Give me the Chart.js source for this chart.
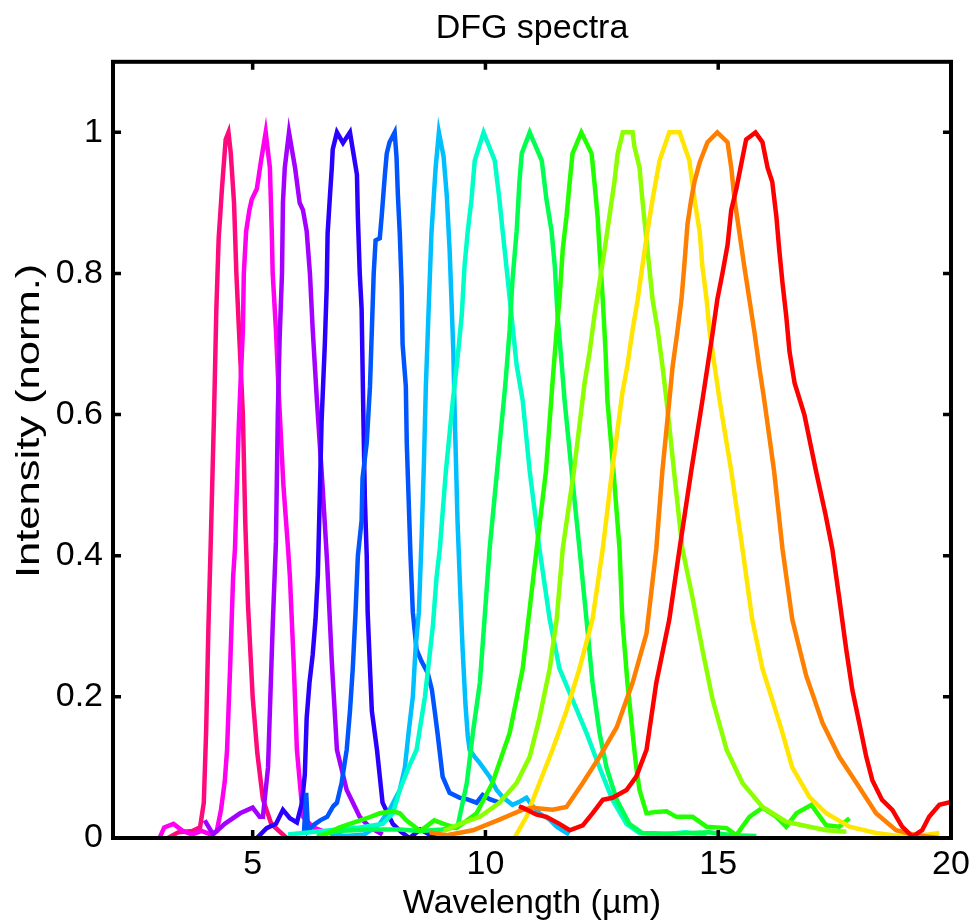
<!DOCTYPE html>
<html>
<head>
<meta charset="utf-8">
<title>DFG spectra</title>
<script src="https://cdn.jsdelivr.net/npm/chart.js@4.4.1/dist/chart.umd.min.js"></script>
<style>
  html, body { margin: 0; padding: 0; background: #fff; }
  #wrap { width: 976px; height: 924px; }
</style>
</head>
<body>
<div id="wrap"><canvas id="dfg" width="976" height="924"></canvas></div>
<script>
// DFG spectra — 13 normalised spectra.
// Each curve has its own wavelength samples (µm) and intensities.

const wlRose = [3.18, 3.4, 3.7, 3.87, 3.95, 4.0, 4.05, 4.1, 4.17, 4.22, 4.27, 4.34, 4.42, 4.48, 4.53, 4.6, 4.65, 4.72, 4.79, 4.84, 4.9, 5.0, 5.1, 5.22, 5.4, 5.73];
const itRose = [0, 0.008, 0.01, 0.015, 0.05, 0.15, 0.3, 0.42, 0.6, 0.75, 0.85, 0.92, 0.99, 1.0, 0.97, 0.9, 0.8, 0.7, 0.6, 0.45, 0.33, 0.2, 0.12, 0.055, 0.02, 0];

const wlMagenta = [3.0, 3.1, 3.3, 3.5, 3.7, 3.9, 4.1, 4.23, 4.32, 4.4, 4.45, 4.52, 4.58, 4.62, 4.7, 4.73, 4.79, 4.81, 4.86, 4.93, 4.98, 5.09, 5.18, 5.28, 5.37, 5.41, 5.43, 5.5, 5.56, 5.66, 5.76, 5.8, 5.88, 5.95, 6.08, 6.3, 6.5, 6.9];
const itMagenta = [0.0, 0.015, 0.02, 0.01, 0.005, 0.01, 0.005, 0.01, 0.04, 0.08, 0.125, 0.25, 0.37, 0.41, 0.58, 0.63, 0.72, 0.8, 0.86, 0.89, 0.905, 0.92, 0.96, 1.0, 0.95, 0.86, 0.8, 0.72, 0.63, 0.5, 0.41, 0.37, 0.25, 0.125, 0.03, 0.015, 0.01, 0.005];

const wlViolet = [3.97, 4.15, 4.4, 4.73, 5.0, 5.15, 5.22, 5.33, 5.43, 5.5, 5.54, 5.58, 5.63, 5.65, 5.69, 5.78, 5.91, 6.01, 6.08, 6.16, 6.23, 6.29, 6.38, 6.5, 6.6, 6.7, 6.81, 7.02, 7.3, 7.52, 7.79];
const itViolet = [0.025, 0.005, 0.02, 0.035, 0.043, 0.03, 0.03, 0.1, 0.3, 0.42, 0.6, 0.71, 0.8, 0.9, 0.95, 1.0, 0.95, 0.9, 0.89, 0.86, 0.8, 0.72, 0.62, 0.5, 0.39, 0.25, 0.125, 0.068, 0.03, 0.015, 0.005];

const wlBlue = [5.09, 5.3, 5.5, 5.65, 5.8, 5.95, 6.06, 6.12, 6.16, 6.22, 6.29, 6.35, 6.40, 6.44, 6.48, 6.55, 6.59, 6.61, 6.66, 6.70, 6.72, 6.81, 6.94, 7.09, 7.15, 7.24, 7.26, 7.30, 7.34, 7.36, 7.38, 7.41, 7.45, 7.47, 7.52, 7.56, 7.67, 7.79, 8.01, 8.2, 8.37, 8.6, 8.8, 8.95];
const itBlue = [0, 0.014, 0.02, 0.04, 0.028, 0.022, 0.05, 0.09, 0.17, 0.22, 0.26, 0.31, 0.373, 0.48, 0.59, 0.70, 0.78, 0.857, 0.91, 0.95, 0.976, 1.0, 0.985, 1.0, 0.976, 0.94, 0.88, 0.80, 0.75, 0.67, 0.59, 0.48, 0.40, 0.32, 0.24, 0.18, 0.125, 0.05, 0.02, 0.008, 0.0, 0.012, 0.005, 0.0];

const wlAzure = [6.1, 6.15, 6.19, 6.3, 6.45, 6.6, 6.73, 6.81, 6.91, 7.02, 7.09, 7.15, 7.21, 7.26, 7.34, 7.36, 7.45, 7.52, 7.56, 7.60, 7.64, 7.73, 7.77, 7.84, 7.88, 7.94, 8.05, 8.09, 8.12, 8.16, 8.20, 8.22, 8.29, 8.31, 8.35, 8.39, 8.44, 8.52, 8.63, 8.76, 8.85, 8.91, 8.97, 9.08, 9.23, 9.45, 9.6, 9.81, 9.94, 10.09, 10.3];
const itAzure = [0.005, 0.064, 0.01, 0.018, 0.025, 0.03, 0.045, 0.05, 0.078, 0.125, 0.18, 0.24, 0.32, 0.40, 0.45, 0.51, 0.56, 0.64, 0.72, 0.80, 0.847, 0.85, 0.88, 0.94, 0.97, 0.986, 1.0, 0.965, 0.91, 0.857, 0.78, 0.70, 0.64, 0.56, 0.48, 0.40, 0.32, 0.267, 0.25, 0.234, 0.21, 0.18, 0.149, 0.087, 0.064, 0.057, 0.055, 0.05, 0.061, 0.055, 0.05];

const wlSky = [6.66, 7.0, 7.4, 7.73, 7.94, 8.16, 8.27, 8.35, 8.44, 8.5, 8.57, 8.63, 8.68, 8.72, 8.78, 8.84, 8.93, 9.0, 9.1, 9.17, 9.23, 9.27, 9.31, 9.34, 9.4, 9.47, 9.51, 9.57, 9.62, 9.66, 9.77, 9.88, 10.09, 10.24, 10.37, 10.58, 10.75, 10.88, 10.99, 11.16, 11.38, 11.53, 11.8];
const itSky = [0.005, 0.003, 0.005, 0.02, 0.04, 0.068, 0.1, 0.15, 0.2, 0.27, 0.32, 0.427, 0.535, 0.64, 0.75, 0.857, 0.95, 1.0, 0.966, 0.91, 0.834, 0.763, 0.69, 0.6, 0.45, 0.33, 0.267, 0.19, 0.145, 0.125, 0.115, 0.106, 0.087, 0.068, 0.058, 0.047, 0.052, 0.057, 0.047, 0.035, 0.026, 0.016, 0.005];

const wlAqua = [5.76, 6.5, 7.3, 7.79, 8.01, 8.16, 8.35, 8.52, 8.7, 8.87, 8.95, 9.02, 9.15, 9.3, 9.4, 9.49, 9.55, 9.62, 9.7, 9.77, 9.96, 10.2, 10.3, 10.37, 10.45, 10.56, 10.67, 10.8, 10.95, 11.16, 11.38, 11.59, 11.87, 12.17, 12.45, 12.73, 13.03, 13.31, 13.8, 14.3, 14.75];
const itAqua = [0.005, 0.01, 0.015, 0.02, 0.035, 0.068, 0.1, 0.125, 0.2, 0.3, 0.37, 0.41, 0.52, 0.62, 0.68, 0.74, 0.81, 0.86, 0.905, 0.96, 1.0, 0.96, 0.905, 0.86, 0.81, 0.74, 0.67, 0.62, 0.52, 0.41, 0.31, 0.24, 0.196, 0.149, 0.1, 0.054, 0.02, 0.007, 0.005, 0.008, 0.004];

const wlSpring = [6.38, 6.81, 7.5, 8.16, 8.6, 9.08, 9.4, 9.6, 9.73, 9.88, 9.98, 10.09, 10.25, 10.43, 10.52, 10.58, 10.67, 10.73, 10.78, 10.95, 11.21, 11.31, 11.42, 11.49, 11.55, 11.64, 11.7, 11.85, 12.02, 12.17, 12.3, 12.45, 12.6, 12.82, 13.09, 13.37, 14.0, 14.8, 15.3, 15.82];
const itSpring = [0.003, 0.01, 0.012, 0.012, 0.01, 0.012, 0.016, 0.078, 0.149, 0.22, 0.31, 0.41, 0.52, 0.645, 0.72, 0.79, 0.86, 0.93, 0.97, 1.0, 0.96, 0.905, 0.86, 0.81, 0.74, 0.67, 0.62, 0.52, 0.41, 0.31, 0.22, 0.149, 0.1, 0.054, 0.02, 0.007, 0.006, 0.008, 0.004, 0.003];

const wlGreen = [6.38, 6.87, 7.45, 7.73, 8.01, 8.16, 8.3, 8.6, 8.9, 9.1, 9.38, 9.81, 10.15, 10.52, 10.8, 11.1, 11.3, 11.44, 11.53, 11.59, 11.66, 11.74, 11.81, 11.87, 12.06, 12.28, 12.34, 12.41, 12.45, 12.52, 12.58, 12.62, 12.75, 12.88, 12.94, 13.05, 13.16, 13.24, 13.31, 13.46, 13.67, 13.89, 14.1, 14.45, 14.75, 15.18, 15.39, 15.67, 15.95, 16.25, 16.46, 16.68, 17.0, 17.32, 17.6, 17.82];
const itGreen = [0.0, 0.015, 0.028, 0.035, 0.038, 0.035, 0.025, 0.01, 0.025, 0.02, 0.014, 0.035, 0.078, 0.149, 0.24, 0.41, 0.52, 0.645, 0.72, 0.763, 0.834, 0.88, 0.93, 0.97, 1.0, 0.97, 0.93, 0.88, 0.834, 0.763, 0.69, 0.62, 0.52, 0.41, 0.31, 0.22, 0.149, 0.1, 0.068, 0.035, 0.037, 0.038, 0.03, 0.03, 0.016, 0.014, 0.004, 0.03, 0.043, 0.03, 0.016, 0.035, 0.047, 0.018, 0.016, 0.028];

const wlLime = [9.1, 9.45, 9.88, 10.3, 10.67, 10.95, 11.16, 11.38, 11.53, 11.66, 11.9, 12.13, 12.24, 12.34, 12.45, 12.56, 12.66, 12.77, 12.84, 12.95, 13.16, 13.2, 13.31, 13.37, 13.48, 13.59, 13.7, 13.8, 13.89, 14.05, 14.23, 14.45, 14.66, 14.88, 15.18, 15.52, 15.95, 16.46, 16.96, 17.32, 17.75];
const itLime = [0.01, 0.02, 0.03, 0.05, 0.078, 0.115, 0.17, 0.24, 0.31, 0.41, 0.52, 0.645, 0.69, 0.74, 0.787, 0.834, 0.88, 0.93, 0.97, 1.0, 1.0, 0.98, 0.95, 0.905, 0.834, 0.763, 0.72, 0.67, 0.62, 0.52, 0.41, 0.34, 0.267, 0.196, 0.125, 0.078, 0.044, 0.023, 0.016, 0.011, 0.009];

const wlYellow = [10.63, 10.88, 11.16, 11.44, 11.74, 12.02, 12.3, 12.52, 12.72, 12.94, 13.05, 13.16, 13.27, 13.37, 13.48, 13.59, 13.74, 13.95, 14.17, 14.38, 14.49, 14.6, 14.66, 14.75, 14.81, 14.92, 15.03, 15.28, 15.52, 15.73, 15.95, 16.16, 16.38, 16.59, 16.96, 17.32, 17.82, 18.39, 18.95, 19.4, 19.75];
const itYellow = [0.001, 0.03, 0.078, 0.125, 0.18, 0.24, 0.31, 0.41, 0.52, 0.63, 0.67, 0.72, 0.763, 0.81, 0.86, 0.905, 0.96, 1.0, 1.0, 0.96, 0.905, 0.86, 0.81, 0.763, 0.72, 0.67, 0.62, 0.52, 0.41, 0.31, 0.24, 0.196, 0.149, 0.1, 0.058, 0.035, 0.016, 0.007, 0.002, 0.004, 0.007];

const wlOrange = [8.8, 9.17, 9.73, 10.3, 10.8, 11.01, 11.44, 11.74, 12.09, 12.45, 12.82, 13.16, 13.46, 13.67, 13.8, 13.95, 14.02, 14.12, 14.21, 14.27, 14.34, 14.42, 14.49, 14.6, 14.77, 14.98, 15.2, 15.28, 15.35, 15.45, 15.56, 15.67, 15.78, 15.88, 15.99, 16.2, 16.38, 16.59, 16.89, 17.24, 17.6, 17.97, 18.39, 18.82, 19.25, 19.75];
const itOrange = [0.008, 0.004, 0.011, 0.026, 0.04, 0.043, 0.04, 0.044, 0.078, 0.115, 0.157, 0.22, 0.29, 0.41, 0.52, 0.62, 0.668, 0.716, 0.763, 0.81, 0.87, 0.905, 0.93, 0.957, 0.986, 1.0, 0.986, 0.95, 0.905, 0.86, 0.81, 0.763, 0.716, 0.668, 0.62, 0.52, 0.41, 0.31, 0.23, 0.163, 0.115, 0.078, 0.035, 0.011, 0.004, 0.0];

const wlRed = [10.72, 10.8, 11.1, 11.31, 11.59, 11.81, 12.09, 12.3, 12.52, 12.73, 13.03, 13.24, 13.46, 13.67, 13.95, 14.17, 14.42, 14.66, 14.77, 14.88, 14.98, 15.09, 15.2, 15.28, 15.39, 15.5, 15.6, 15.8, 15.95, 16.06, 16.16, 16.25, 16.31, 16.38, 16.46, 16.53, 16.64, 16.85, 17.1, 17.3, 17.45, 17.6, 17.75, 17.88, 18.03, 18.18, 18.31, 18.52, 18.74, 18.95, 19.17, 19.38, 19.53, 19.75, 20.0];
const itRed = [0.045, 0.043, 0.033, 0.03, 0.02, 0.011, 0.018, 0.035, 0.054, 0.057, 0.068, 0.087, 0.125, 0.22, 0.31, 0.41, 0.52, 0.62, 0.668, 0.716, 0.763, 0.8, 0.84, 0.89, 0.92, 0.957, 0.99, 1.0, 0.986, 0.95, 0.93, 0.88, 0.834, 0.787, 0.74, 0.69, 0.645, 0.6, 0.52, 0.46, 0.41, 0.34, 0.267, 0.21, 0.163, 0.115, 0.082, 0.054, 0.04, 0.016, 0.002, 0.011, 0.03, 0.047, 0.051];

const X_TICKS = [5, 10, 15, 20];
const Y_TICKS = [0, 0.2, 0.4, 0.6, 0.8, 1];

// short -> long wavelength, same order as the pump tuning
const SPECTRA = [
  [wlRose, itRose, "#ff0a7d"],
  [wlMagenta, itMagenta, "#ff00f0"],
  [wlViolet, itViolet, "#a400ff"],
  [wlBlue, itBlue, "#2a00ff"],
  [wlAzure, itAzure, "#0055ff"],
  [wlSky, itSky, "#00bfff"],
  [wlAqua, itAqua, "#00ffc8"],
  [wlSpring, itSpring, "#00ff50"],
  [wlGreen, itGreen, "#22ff00"],
  [wlLime, itLime, "#8cff00"],
  [wlYellow, itYellow, "#ffe500"],
  [wlOrange, itOrange, "#ff7f00"],
  [wlRed, itRed, "#ff0000"],
];

const FONT = "'Liberation Sans', Arial, Helvetica, sans-serif";
const TICK_LEN = 8;
const Y_LABEL = "Intensity (norm.)";

function toPoints(wl, it) {
  return wl.map((x, i) => ({ x, y: it[i] }));
}

// box around the plot with inward ticks on all four sides (matlab style)
const boxTicks = {
  id: "boxTicks",
  afterDatasetsDraw(chart) {
    const { ctx, chartArea: a, scales } = chart;
    ctx.save();
    ctx.strokeStyle = "#000";
    ctx.lineWidth = 3.5;
    ctx.beginPath();
    X_TICKS.forEach((v) => {
      const px = scales.x.getPixelForValue(v);
      ctx.moveTo(px, a.bottom);
      ctx.lineTo(px, a.bottom - TICK_LEN);
      ctx.moveTo(px, a.top);
      ctx.lineTo(px, a.top + TICK_LEN);
    });
    Y_TICKS.forEach((v) => {
      const py = scales.y.getPixelForValue(v);
      ctx.moveTo(a.left, py);
      ctx.lineTo(a.left + TICK_LEN, py);
      ctx.moveTo(a.right, py);
      ctx.lineTo(a.right - TICK_LEN, py);
    });
    ctx.stroke();
    ctx.lineWidth = 4;
    ctx.strokeRect(a.left, a.top, a.right - a.left, a.bottom - a.top);
    ctx.restore();
  },
};

// the y label in the original is drawn stretched along its length and sits a bit high
const yLabel = {
  id: "yLabel",
  afterDraw(chart) {
    const { ctx, chartArea: a } = chart;
    ctx.save();
    ctx.translate(30, (a.top + a.bottom) / 2 - 29);
    ctx.rotate(-Math.PI / 2);
    ctx.scale(1.28, 1);
    ctx.font = "34px " + FONT;
    ctx.fillStyle = "#000";
    ctx.textAlign = "center";
    ctx.textBaseline = "middle";
    ctx.fillText(Y_LABEL, 0, 0);
    ctx.restore();
  },
};

Chart.defaults.color = "#000";
Chart.defaults.font.family = FONT;

new Chart(document.getElementById("dfg"), {
  type: "line",
  data: {
    datasets: SPECTRA.map(([wl, it, color], i) => ({
      data: toPoints(wl, it),
      borderColor: color,
      borderWidth: 4.5,
      pointRadius: 0,
      tension: 0,
      fill: false,
      order: SPECTRA.length - i,
    })),
  },
  options: {
    responsive: false,
    animation: false,
    layout: { padding: { top: 0, right: 25, bottom: 0, left: 0 } },
    plugins: {
      legend: { display: false },
      tooltip: { enabled: false },
      title: {
        display: true,
        fullSize: false,
        text: "DFG spectra",
        font: { size: 34, weight: "normal" },
        padding: { top: 8, bottom: 13 },
      },
    },
    scales: {
      x: {
        type: "linear",
        min: 2,
        max: 20,
        afterBuildTicks: (s) => { s.ticks = X_TICKS.map((v) => ({ value: v })); },
        afterFit: (s) => { s.height = 86; },
        grid: { display: false, drawTicks: false },
        border: { display: false },
        ticks: { font: { size: 34 }, padding: 6, maxRotation: 0 },
        title: {
          display: true,
          text: "Wavelength (µm)",
          font: { size: 34 },
          padding: { top: 0, bottom: 0 },
        },
      },
      y: {
        min: 0,
        max: 1.1,
        afterBuildTicks: (s) => { s.ticks = Y_TICKS.map((v) => ({ value: v })); },
        afterFit: (s) => { s.width = 113; },
        grid: { display: false, drawTicks: false },
        border: { display: false },
        ticks: {
          font: { size: 34 },
          padding: 10,
          callback: (v) => String(+Number(v).toFixed(1)),
        },
        title: { display: false },
      },
    },
  },
  plugins: [boxTicks, yLabel],
});
</script>
</body>
</html>
